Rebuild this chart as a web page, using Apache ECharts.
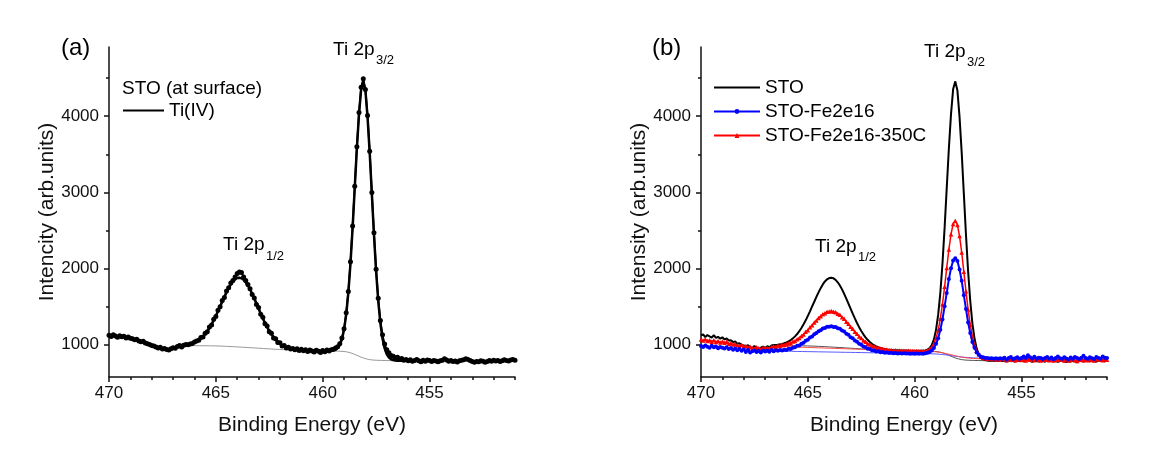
<!DOCTYPE html>
<html><head><meta charset="utf-8">
<script src="https://cdn.jsdelivr.net/npm/echarts@6/dist/echarts.min.js"></script>
<style>html,body{margin:0;padding:0;background:#fff}#c{width:1176px;height:450px}</style>
</head><body><div id="c"></div>
<script>
// Binding energy grid (eV), 470.0 -> 451.0
const energy = [
470.0,469.9,469.8,469.7,469.6,469.5,469.4,469.3,469.2,469.1,
469.0,468.9,468.8,468.7,468.6,468.5,468.4,468.3,468.2,468.1,
468.0,467.9,467.8,467.7,467.6,467.5,467.4,467.3,467.2,467.1,
467.0,466.9,466.8,466.7,466.6,466.5,466.4,466.3,466.2,466.1,
466.0,465.9,465.8,465.7,465.6,465.5,465.4,465.3,465.2,465.1,
465.0,464.9,464.8,464.7,464.6,464.5,464.4,464.3,464.2,464.1,
464.0,463.9,463.8,463.7,463.6,463.5,463.4,463.3,463.2,463.1,
463.0,462.9,462.8,462.7,462.6,462.5,462.4,462.3,462.2,462.1,
462.0,461.9,461.8,461.7,461.6,461.5,461.4,461.3,461.2,461.1,
461.0,460.9,460.8,460.7,460.6,460.5,460.4,460.3,460.2,460.1,
460.0,459.9,459.8,459.7,459.6,459.5,459.4,459.3,459.2,459.1,
459.0,458.9,458.8,458.7,458.6,458.5,458.4,458.3,458.2,458.1,
458.0,457.9,457.8,457.7,457.6,457.5,457.4,457.3,457.2,457.1,
457.0,456.9,456.8,456.7,456.6,456.5,456.4,456.3,456.2,456.1,
456.0,455.9,455.8,455.7,455.6,455.5,455.4,455.3,455.2,455.1,
455.0,454.9,454.8,454.7,454.6,454.5,454.4,454.3,454.2,454.1,
454.0,453.9,453.8,453.7,453.6,453.5,453.4,453.3,453.2,453.1,
453.0,452.9,452.8,452.7,452.6,452.5,452.4,452.3,452.2,452.1,
452.0,451.9,451.8,451.7,451.6,451.5,451.4,451.3,451.2,451.1,
451.0];

// Panel (a): STO at surface, measured points
const aRaw = [
1125,1108,1132,1115,1098,1120,1105,1112,1090,1102,1085,
1078,1065,1072,1050,1040,1046,1022,1015,1002,990,
985,972,958,966,945,952,938,930,948,962,
955,978,990,972,995,1002,1000,1010,1018,1035,
1050,1058,1095,1102,1150,1172,1232,1260,1335,1370,
1452,1498,1580,1622,1705,1748,1810,1842,1890,1935,
1955,1950,1890,1845,1790,1735,1660,1615,1530,1490,
1400,1360,1275,1245,1170,1150,1090,1078,1030,1025,
985,990,958,968,945,952,935,948,925,940,
920,935,912,930,918,905,928,915,898,925,
910,932,918,935,940,958,975,1015,1090,1210,
1420,1700,2090,2560,3080,3600,4050,4380,4490,4350,
4010,3540,3000,2470,1990,1610,1320,1130,1010,935,
895,860,850,830,835,812,820,798,808,790,
802,785,795,808,790,778,796,785,800,792,
780,795,788,776,790,798,815,800,785,792,
780,788,775,790,798,805,818,806,792,780,
770,782,776,790,785,772,780,792,785,798,
788,795,782,790,802,795,788,800,806,798];

// Ti(IV) fitted envelope, 466.6 -> 456.0 eV (starts at energy index 34)
const aFitStartIndex = 34;
const aFit = [
996,998,1001,1006,1012,1020,1031,
1045,1062,1084,1110,1141,1178,1220,1269,1321,1379,
1439,1503,1565,1628,1688,1743,1792,1831,1859,1876,
1880,1872,1852,1820,1778,1727,1669,1606,1541,1475,
1408,1346,1286,1231,1181,1137,1098,1065,1037,1013,
994,979,967,957,950,944,939,936,933,930,
928,927,926,925,925,924,924,923,923,922,
921,921,920,922,926,935,956,996,1071,1199,
1395,1681,2064,2534,3058,3579,4027,4356,4457,4336,
3988,3522,2984,2447,1966,1575,1282,1082,952,875,
833,810,800,794,791,790,790,790,790,790];

// Backgrounds (Shirley-like)
const bgEnergy = [466.6,466.0,465.0,464.0,463.0,462.0,461.0,460.0,459.5,459.0,458.7,458.4,458.1,457.8,457.5,457.0,456.5,456.0];
const bgSTO    = [990,988,985,972,955,938,928,922,918,912,895,862,827,805,797,793,790,790];
const bgFe350  = [986,975,965,955,945,935,925,917,915,907,894,876,855,838,826,817,814,810];
const bgFe     = [916,915,910,905,900,895,890,885,883,879,872,862,850,840,832,825,822,820];

// Panel (b): STO tails outside the fitted window
const bStoLeft = [
1120,1135,1100,1128,1110,1095,1125,1090,1105,1080,1098,
1070,1082,1055,1060,1035,1042,1015,1020,998,990,
980,995,970,955,985,948,940,962,975,958,
980,968,990];
const bStoRight = [
788,792,780,795,785,790,778,792,786,795,
782,790,798,785,775,792,788,780,795,786,
778,792,785,798,782,790,775,788,795,780,
772,785,778,790,782,770,786,792,780,788,
795,782,790,785,778,792,800,788,782,790];

const bFe = [
985,970,992,975,960,988,968,978,955,972,962,
950,968,945,958,935,952,928,945,920,938,
905,930,898,915,925,905,918,898,925,912,
922,908,930,915,928,920,932,925,935,930,
947,945,962,966,986,992,1015,1026,1052,1066,
1094,1109,1138,1153,1179,1191,1214,1220,1236,1235,
1243,1234,1233,1217,1210,1186,1173,1146,1130,1100,
1084,1055,1040,1013,1001,978,969,949,944,928,
926,913,914,903,905,896,899,892,896,889,
891,887,890,885,888,884,887,883,886,882,
885,881,884,883,890,895,906,925,958,1012,
1085,1198,1332,1505,1680,1862,2003,2106,2134,2099,
1988,1840,1651,1470,1292,1153,1035,960,898,870,
843,837,825,827,819,824,818,823,816,822,
815,830,808,825,840,812,822,835,818,828,
845,825,862,835,820,842,815,830,825,812,
828,840,818,832,810,825,845,822,815,835,
820,808,832,818,840,825,812,830,855,828,
818,835,822,812,840,826,815,845,830,825];

const bFe350 = [
1068,1055,1072,1050,1060,1040,1058,1035,1048,1030,1042,
1025,1038,1015,1020,1002,1010,995,985,1000,978,
985,962,975,958,948,968,955,940,960,950,
962,955,970,982,975,990,985,998,996,1008,
1020,1022,1042,1050,1074,1088,1116,1135,1170,1192,
1230,1255,1292,1318,1352,1374,1402,1414,1433,1436,
1442,1434,1428,1408,1393,1362,1340,1303,1276,1236,
1210,1170,1145,1108,1088,1057,1041,1015,1005,984,
978,962,958,947,946,936,937,929,931,925,
928,921,924,920,922,918,921,917,919,916,
918,915,917,918,922,929,943,968,1013,1086,
1192,1340,1532,1761,2009,2250,2452,2585,2628,2572,
2426,2212,1959,1701,1464,1264,1110,998,922,874,
846,831,822,818,815,812,816,810,813,808,
815,812,798,820,805,812,796,808,815,800,
810,795,818,802,812,798,820,805,792,810,
802,815,798,808,795,812,800,818,806,795,
808,792,805,815,798,788,802,810,796,805,
798,812,800,795,808,815,802,796,810,805];

// Ticks
const xMajorTicks = [470,465,460,455];
const xMinorTicks = [469,468,467,466,464,463,462,461,459,458,457,456,454,453,452,451];
const yMajorTicks = [1000,2000,3000,4000];
const yMinorTicks = [1500,2500,3500,4500];

const FONT = "'Liberation Sans', Arial, sans-serif";
const INK = '#111';
const pairs = (xs, ys) => ys.map((v, i) => [xs[i], v]);
const fitPairs = aFit.map((v, k) => [energy[k + aFitStartIndex], v]);
const bSto = bStoLeft.concat(aFit, bStoRight);
const plain = v => String(v);

function mainX(g) {
  return {type:'value', gridIndex:g, min:451, max:470, inverse:true, position:'bottom',
    axisLine:{show:true, onZero:false, lineStyle:{color:INK, width:1.5}},
    axisTick:{show:true, customValues:xMajorTicks, length:5, lineStyle:{color:INK, width:1.5}},
    axisLabel:{customValues:xMajorTicks, formatter:plain, margin:8, fontSize:17, color:INK, fontFamily:FONT},
    splitLine:{show:false},
    name:'Binding Energy (eV)', nameLocation:'middle', nameGap:38,
    nameTextStyle:{fontSize:21, color:INK, fontFamily:FONT}};
}
function minorX(g) {
  return {type:'value', gridIndex:g, min:451, max:470, inverse:true, position:'bottom',
    axisLine:{show:false}, axisLabel:{show:false}, splitLine:{show:false},
    axisTick:{show:true, customValues:xMinorTicks, length:3, lineStyle:{color:INK, width:1.5}}};
}
function mainY(g, name) {
  return {type:'value', gridIndex:g, min:577, max:4908, position:'left',
    axisLine:{show:true, onZero:false, lineStyle:{color:INK, width:1.5}},
    axisTick:{show:true, customValues:yMajorTicks, length:5, lineStyle:{color:INK, width:1.5}},
    axisLabel:{customValues:yMajorTicks, formatter:plain, margin:10, fontSize:17, color:INK, fontFamily:FONT},
    splitLine:{show:false},
    name:name, nameLocation:'middle', nameGap:50, nameRotate:90,
    nameTextStyle:{fontSize:21, color:INK, fontFamily:FONT}};
}
function minorY(g) {
  return {type:'value', gridIndex:g, min:577, max:4908, position:'left',
    axisLine:{show:false}, axisLabel:{show:false}, splitLine:{show:false},
    axisTick:{show:true, customValues:yMinorTicks, length:3, lineStyle:{color:INK, width:1.5}}};
}
function txt(x, y, s, size) {
  return {type:'text', x:x, y:y, silent:true,
    style:{text:s, font:size + 'px ' + FONT, fill:'#000', textAlign:'left', textVerticalAlign:'middle'}};
}
const hideMark = {opacity:0};

const chart = echarts.init(document.getElementById('c'), null, {renderer:'canvas'});
chart.setOption({
  animation:false,
  backgroundColor:'#fff',
  grid:[
    {left:109, top:47, width:406, height:330},
    {left:701, top:47, width:406, height:330}
  ],
  xAxis:[mainX(0), minorX(0), mainX(1), minorX(1)],
  yAxis:[mainY(0,'Intencity (arb.units)'), minorY(0), mainY(1,'Intensity (arb.units)'), minorY(1)],
  legend:[
    {data:[{name:'Ti(IV)', itemStyle:hideMark}], left:122, top:101, orient:'vertical', padding:0, itemGap:5,
     itemWidth:41, itemHeight:6, selectedMode:false,
     textStyle:{fontSize:19, color:'#000', fontFamily:FONT}},
    {data:[{name:'STO', itemStyle:hideMark}, 'STO-Fe2e16', 'STO-Fe2e16-350C'], left:713, top:78, orient:'vertical', padding:0, itemGap:5,
     itemWidth:46, itemHeight:6, selectedMode:false,
     textStyle:{fontSize:19, color:'#000', fontFamily:FONT}}
  ],
  graphic:[
    txt(61, 48, '(a)', 24),
    txt(652, 48, '(b)', 24),
    txt(122, 89, 'STO (at surface)', 19),
    txt(333, 50, 'Ti 2p', 19), txt(376, 60, '3/2', 13),
    txt(223, 245, 'Ti 2p', 19), txt(266, 256, '1/2', 13),
    txt(924, 52, 'Ti 2p', 19), txt(967, 62, '3/2', 13),
    txt(815, 247, 'Ti 2p', 19), txt(858, 257, '1/2', 13)
  ],
  series:[
    {name:'Background (a)', type:'line', xAxisIndex:0, yAxisIndex:0, data:pairs(bgEnergy, bgSTO),
     smooth:0.3, symbol:'none', lineStyle:{color:'#999', width:1}, z:2, silent:true},
    {name:'STO (at surface) data', type:'line', xAxisIndex:0, yAxisIndex:0, data:pairs(energy, aRaw),
     symbol:'circle', symbolSize:5, lineStyle:{color:'#000', width:1.8}, itemStyle:{color:'#000'}, z:4, silent:true},
    {name:'Ti(IV)', type:'line', xAxisIndex:0, yAxisIndex:0, data:fitPairs,
     symbol:'none', lineStyle:{color:'#000', width:2.5}, itemStyle:{color:'#000'}, z:3, silent:true},

    {name:'STO background', type:'line', xAxisIndex:2, yAxisIndex:2, data:pairs(bgEnergy, bgSTO),
     smooth:0.3, symbol:'none', lineStyle:{color:'#555', width:1}, z:2, silent:true},
    {name:'STO-Fe2e16 background', type:'line', xAxisIndex:2, yAxisIndex:2, data:pairs(bgEnergy, bgFe),
     smooth:0.3, symbol:'none', lineStyle:{color:'#5a5aff', width:1}, z:2, silent:true},
    {name:'STO-Fe2e16-350C background', type:'line', xAxisIndex:2, yAxisIndex:2, data:pairs(bgEnergy, bgFe350),
     smooth:0.3, symbol:'none', lineStyle:{color:'#ff4a4a', width:1}, z:2, silent:true},
    {name:'STO', type:'line', xAxisIndex:2, yAxisIndex:2, data:pairs(energy, bSto),
     symbol:'none', lineStyle:{color:'#000', width:2}, itemStyle:{color:'#000'}, z:3, silent:true},
    {name:'STO-Fe2e16-350C', type:'line', xAxisIndex:2, yAxisIndex:2, data:pairs(energy, bFe350),
     symbol:'triangle', symbolSize:4.5, lineStyle:{color:'#ff0000', width:1.5}, itemStyle:{color:'#ff0000'}, z:4, silent:true},
    {name:'STO-Fe2e16', type:'line', xAxisIndex:2, yAxisIndex:2, data:pairs(energy, bFe),
     symbol:'circle', symbolSize:4, lineStyle:{color:'#0000ff', width:2}, itemStyle:{color:'#0000ff'}, z:5, silent:true}
  ]
});
</script>
</body></html>
